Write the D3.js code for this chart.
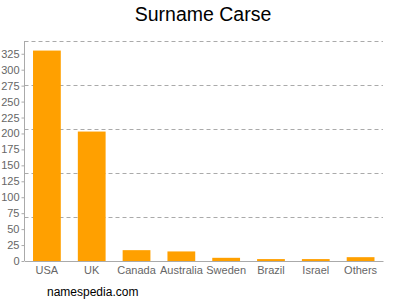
<!DOCTYPE html>
<html>
<head>
<meta charset="utf-8">
<script src="https://cdn.jsdelivr.net/npm/d3@7"></script>
<style>
body { margin: 0; background: #fff; }
svg { font-family: "Liberation Sans", Arial, sans-serif; }
</style>
</head>
<body>
<div id="chart"></div>
<script>
var countries = ["USA", "UK", "Canada", "Australia", "Sweden", "Brazil", "Israel", "Others"];
var counts = [330, 203, 17, 15, 5, 3, 3, 6];
var tickValues = [0, 25, 50, 75, 100, 125, 150, 175, 200, 225, 250, 275, 300, 325];

var margin = {top: 41, right: 17, bottom: 39, left: 24.5},
    width = 400 - margin.left - margin.right,
    height = 300 - margin.top - margin.bottom;

var svg = d3.select("#chart")
    .append("svg")
    .attr("width", 400)
    .attr("height", 300);

svg.append("text")
    .attr("x", 203)
    .attr("y", 21)
    .attr("text-anchor", "middle")
    .attr("font-size", "19.5px")
    .attr("fill", "#000")
    .text("Surname Carse");

var g = svg.append("g")
    .attr("transform", "translate(" + margin.left + "," + margin.top + ")");

var x = d3.scaleBand().domain(countries).range([0, width]).paddingInner(0.38).paddingOuter(0.19);
var y = d3.scaleLinear().domain([0, 345]).range([height, 0]);

// dashed grid lines, five even steps
var grid = d3.range(1, 6).map(function(i) { return 345 * i / 5; });
g.selectAll(".grid")
    .data(grid)
    .enter().append("line")
    .attr("x1", 0)
    .attr("x2", width)
    .attr("y1", function(d) { return Math.round(y(d)) + 0.5; })
    .attr("y2", function(d) { return Math.round(y(d)) + 0.5; })
    .attr("stroke", "#aaa")
    .attr("stroke-dasharray", "4,3");

g.selectAll(".bar")
    .data(counts)
    .enter().append("rect")
    .attr("x", function(d, i) { return x(countries[i]); })
    .attr("width", x.bandwidth())
    .attr("y", function(d) { return y(d); })
    .attr("height", function(d) { return height - y(d); })
    .attr("fill", "#ffa000");

var yAxis = g.append("g")
    .call(d3.axisLeft(y).tickValues(tickValues).tickSize(3).tickPadding(2));
yAxis.select(".domain").attr("stroke", "#aaa").attr("d", "M0," + height + "V0");
yAxis.selectAll(".tick line").attr("stroke", "#aaa");
yAxis.selectAll("text").attr("fill", "#666").attr("font-size", "11px");

var xAxis = g.append("g")
    .attr("transform", "translate(0," + height + ")")
    .call(d3.axisBottom(x).tickSize(0).tickPadding(5));
xAxis.select(".domain").attr("stroke", "#aaa");
xAxis.selectAll("text").attr("fill", "#666").attr("font-size", "11px");

svg.append("text")
    .attr("x", 47)
    .attr("y", 296)
    .attr("font-size", "12px")
    .attr("fill", "#000")
    .text("namespedia.com");
</script>
</body>
</html>
